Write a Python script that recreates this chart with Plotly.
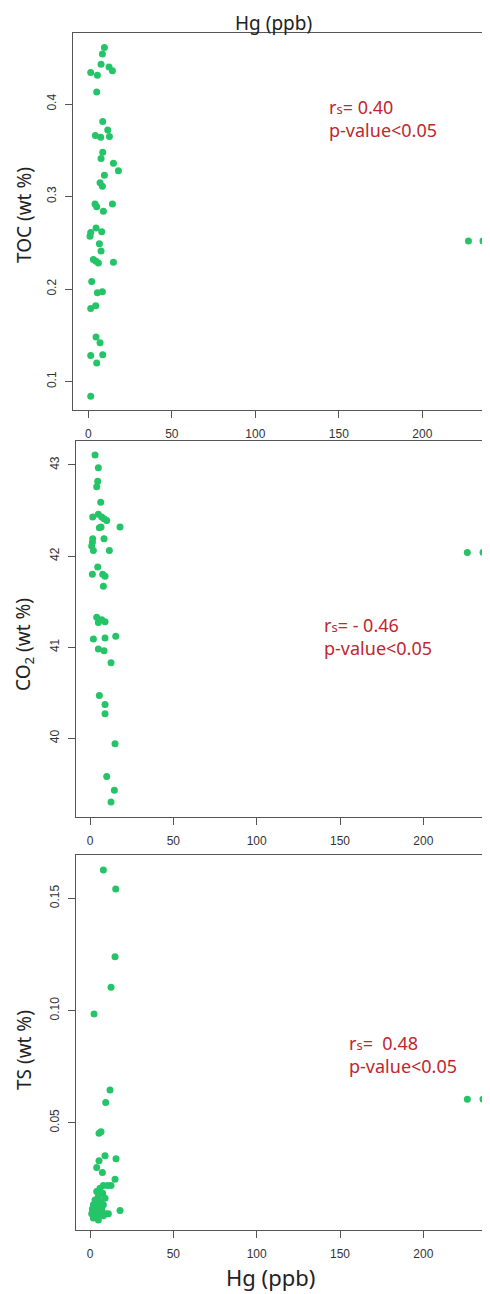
import plotly.graph_objects as go

PAGE_W, PAGE_H = 490, 1294
OFF = 8  # default body margin of the page
W, H = PAGE_W - OFF, PAGE_H - OFF

# ---- data ----
hg_toc = [9.6, 8.4, 7.6, 12.4, 14.4, 1.4, 5.4, 5.0, 8.6, 11.6, 4.2, 7.4, 12.6, 8.6, 7.6,
          15.0, 18.0, 9.6, 7.0, 8.4, 4.0, 5.0, 9.0, 14.4, 4.6, 8.0, 1.4, 1.0, 6.6, 7.6,
          3.0, 4.6, 6.0, 15.0, 2.0, 5.4, 8.4, 1.4, 4.4, 4.6, 7.0, 1.4, 8.6, 5.0, 1.4,
          227.6, 236.3]
toc = [0.461, 0.454, 0.443, 0.440, 0.436, 0.434, 0.431, 0.413, 0.381, 0.372, 0.366, 0.364,
       0.365, 0.348, 0.341, 0.336, 0.328, 0.323, 0.315, 0.311, 0.292, 0.289, 0.284, 0.292,
       0.266, 0.262, 0.261, 0.257, 0.249, 0.241, 0.232, 0.230, 0.228, 0.229, 0.208, 0.196,
       0.197, 0.179, 0.182, 0.148, 0.142, 0.128, 0.129, 0.120, 0.084, 0.252, 0.252]

hg_co2 = [3.0, 5.0, 4.6, 4.0, 6.4, 1.6, 5.0, 7.0, 8.4, 10.0, 6.6, 5.6, 18.0, 1.6, 1.4,
          8.4, 1.0, 2.0, 11.6, 4.6, 1.4, 7.6, 9.0, 8.0, 4.0, 7.0, 5.0, 9.0, 2.0, 9.0,
          15.4, 5.0, 8.4, 12.6, 5.6, 9.0, 9.0, 15.0, 10.0, 14.6, 12.6, 226.4, 235.8]
co2 = [43.11, 42.97, 42.82, 42.76, 42.59, 42.43, 42.46, 42.43, 42.41, 42.39, 42.32, 42.31,
       42.32, 42.19, 42.15, 42.19, 42.11, 42.06, 42.06, 41.88, 41.80, 41.80, 41.78, 41.67,
       41.33, 41.30, 41.27, 41.28, 41.09, 41.10, 41.12, 40.98, 40.96, 40.83, 40.47, 40.37,
       40.27, 39.94, 39.58, 39.43, 39.30, 42.04, 42.04]

hg_ts = [8.0, 15.4, 15.0, 12.6, 2.4, 12.0, 9.4, 6.6, 5.4, 9.0, 15.6, 5.4, 4.0, 7.4, 15.0,
         8.0, 10.6, 12.6, 6.0, 4.0, 7.6, 5.0, 9.0, 3.0, 6.0, 2.0, 5.0, 8.0, 1.4, 4.0,
         7.0, 1.0, 3.0, 5.6, 9.6, 18.0, 2.0, 5.0, 8.0, 11.0, 226.4, 235.8]
ts = [0.1626, 0.1541, 0.1240, 0.1104, 0.0985, 0.0646, 0.0590, 0.0460, 0.0453, 0.0353,
      0.0339, 0.0331, 0.0300, 0.0278, 0.0248, 0.0220, 0.0220, 0.0220, 0.0208, 0.0193,
      0.0186, 0.0171, 0.0164, 0.0156, 0.0149, 0.0134, 0.0134, 0.0134, 0.0116, 0.0116,
      0.0116, 0.0094, 0.0094, 0.0094, 0.0094, 0.0109, 0.0075, 0.0067, 0.0085, 0.0094,
      0.0605, 0.0605]

x_ticks = [0, 50, 100, 150, 200]
toc_ticks = [0.1, 0.2, 0.3, 0.4]
co2_ticks = [40, 41, 42, 43]
ts_ticks = [0.05, 0.10, 0.15]
ts_ticklabels = ["0.05", "0.10", "0.15"]

y_titles = ["TOC (wt %)", "CO<sub>2</sub> (wt %)", "TS (wt %)"]
SUB = "<span style='font-size:13px'>s</span>"
stats = ["r" + SUB + "= 0.40<br>p-value&lt;0.05",
         "r" + SUB + "= - 0.46<br>p-value&lt;0.05",
         "r" + SUB + "=  0.48<br>p-value&lt;0.05"]

# ---- layout helpers (page pixel -> paper) ----
def px(x):
    return (x - OFF) / W

def py(y):
    return 1 - (y - OFF) / H

GREEN = "#25c468"
RED = "#c0272d"
AX = "#555555"
TXT = "#333333"

panels = [
    dict(x=hg_toc, y=toc, left=73, top=33, bottom=410, xr=[-9.2, 240.5], yr=[0.0692, 0.4768],
         yt=toc_ticks, ytl=None),
    dict(x=hg_co2, y=co2, left=75.7, top=441, bottom=816.7, xr=[-8.6, 240.0], yr=[39.14, 43.263],
         yt=co2_ticks, ytl=None),
    dict(x=hg_ts, y=ts, left=75.7, top=855, bottom=1230, xr=[-8.6, 240.0], yr=[0.0022, 0.1693],
         yt=ts_ticks, ytl=ts_ticklabels),
]

fig = go.Figure()
layout = dict(width=W, height=H, margin=dict(l=0, r=0, t=0, b=0, autoexpand=False),
              paper_bgcolor="white", plot_bgcolor="white", showlegend=False,
              font=dict(family="Liberation Sans, Arial", size=12, color=TXT))

for i, p in enumerate(panels, start=1):
    xa = "x" if i == 1 else f"x{i}"
    ya = "y" if i == 1 else f"y{i}"
    fig.add_trace(go.Scatter(x=p["x"], y=p["y"], mode="markers", xaxis=xa, yaxis=ya,
                             marker=dict(color=GREEN, size=7, line=dict(width=0)),
                             cliponaxis=False, hoverinfo="skip"))
    xkey = "xaxis" if i == 1 else f"xaxis{i}"
    ykey = "yaxis" if i == 1 else f"yaxis{i}"
    layout[xkey] = dict(domain=[px(p["left"]), 1.0], range=p["xr"], anchor=ya,
                        automargin=False,
                        showgrid=False, zeroline=False, showline=True, linecolor=AX,
                        linewidth=1, mirror=True, ticks="outside", ticklen=7, tickwidth=1,
                        tickcolor=AX, tickvals=x_ticks, ticklabelstandoff=6,
                        tickfont=dict(size=12, color=TXT))
    yd = dict(domain=[py(p["bottom"]), py(p["top"])], range=p["yr"], anchor=xa,
              automargin=False,
              showgrid=False, zeroline=False, showline=True, linecolor=AX,
              linewidth=1, mirror=True, ticks="outside", ticklen=7, tickwidth=1,
              tickcolor=AX, tickvals=p["yt"], tickangle=-90, ticklabelstandoff=4,
              tickfont=dict(size=12, color=TXT))
    if p["ytl"]:
        yd["ticktext"] = p["ytl"]
    layout[ykey] = yd

fig.update_layout(**layout)

TFONT = "Noto Sans, Open Sans, sans-serif"

# axis titles
title_pos = [(24, 215), (24, 645), (24, 1050)]
for t, (x, y) in zip(y_titles, title_pos):
    fig.add_annotation(text=t, x=px(x), y=py(y), xref="paper", yref="paper",
                       textangle=-90, showarrow=False, xanchor="center", yanchor="middle",
                       font=dict(family=TFONT, size=19, color="#222222"))

fig.add_annotation(text="Hg (ppb)", x=px(273), y=py(9), xref="paper", yref="paper",
                   showarrow=False, xanchor="center", yanchor="top", borderpad=0,
                   font=dict(family=TFONT, size=19, color="#222222"))
fig.add_annotation(text="Hg (ppb)", x=px(270), y=py(1277), xref="paper", yref="paper",
                   showarrow=False, xanchor="center", yanchor="middle",
                   font=dict(family=TFONT, size=22, color="#222222"))

# stats annotations
stat_pos = [(327, 118), (322, 636), (347, 1054)]
for t, (x, y) in zip(stats, stat_pos):
    fig.add_annotation(text=t, x=px(x), y=py(y), xref="paper", yref="paper",
                       showarrow=False, xanchor="left", yanchor="middle", align="left",
                       font=dict(family=TFONT, size=18, color=RED))

fig.write_html("out.html")
